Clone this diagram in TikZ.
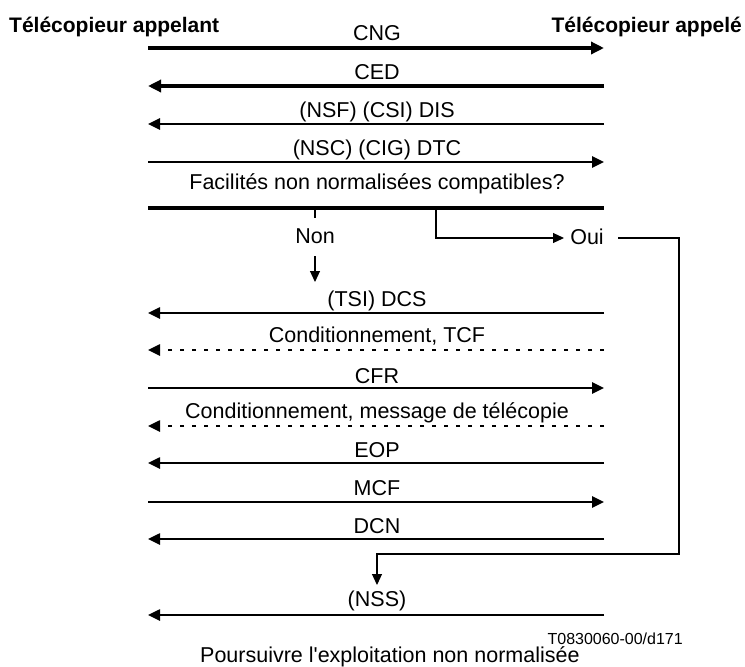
\documentclass[tikz,border=0pt]{standalone}
\usepackage{fontspec}
\setmainfont{Liberation Sans}
\usetikzlibrary{arrows.meta}
\tikzset{
  lbl/.style={anchor=base, inner sep=0pt, font=\fontsize{21.5}{24}\selectfont},
  hdr/.style={anchor=base, inner sep=0pt, font=\fontsize{21}{24}\selectfont\bfseries},
  thickmsg/.style={line width=4pt, -{Triangle[length=13pt,width=12pt]}},
  msg/.style={line width=2.5pt, -{Triangle[length=12pt,width=11pt]}},
  dmsg/.style={line width=2.5pt, dash pattern=on 4pt off 8pt, -{Triangle[length=12pt,width=11pt]}},
  conn/.style={line width=1.1pt},
  connarr/.style={line width=1.1pt, -{Triangle[length=11pt,width=10pt]}},
}
\begin{document}
\begin{tikzpicture}[x=1pt,y=-1pt]
\useasboundingbox (0,0) rectangle (745,667);
% headers
\node[hdr, anchor=base west] (hL) at (9,32) {Télécopieur appelant};
\node[hdr, anchor=base east] (hR) at (742,32) {Télécopieur appelé};
% endpoints
\foreach \n/\y in {cng/48,ced/86,dis/124,dtc/162,sep/208,dcs/313,tcf/350,cfr/388,msg/426,eop/463,mcf/502,dcn/539,nss/615}{
  \coordinate (\n L) at (148,\y);
  \coordinate (\n R) at (604,\y);
}
% first exchange
\draw[thickmsg] (cngL) -- (cngR);
\node[lbl] (cngT) at (377,40) {CNG};
\draw[thickmsg] (cedR) -- (cedL);
\node[lbl] (cedT) at (377,79) {CED};
\draw[msg] (disR) -- (disL);
\node[lbl] (disT) at (377,117) {(NSF) (CSI) DIS};
\draw[msg] (dtcL) -- (dtcR);
\node[lbl] (dtcT) at (377,155) {(NSC) (CIG) DTC};
\node[lbl] (q) at (377,189) {Facilités non normalisées compatibles?};
\draw[line width=4pt] (sepL) -- (sepR);
% branches
\node[lbl] (non) at (315,243) {Non};
\node[lbl] (oui) at (587,244) {Oui};
\coordinate (nonA) at (315,208);
\coordinate (nonB) at (315,218);
\coordinate (nonC) at (315,256);
\coordinate (nonD) at (315,282);
\draw[conn] (nonA) -- (nonB);
\draw[connarr] (nonC) -- (nonD);
\coordinate (ouiA) at (436,208);
\coordinate (ouiB) at (436,238);
\coordinate (ouiC) at (564,238);
\draw[connarr] (ouiA) -- (ouiB) -- (ouiC);
\coordinate (ouiD) at (618,238);
\coordinate (ouiE) at (679,238);
\coordinate (ouiF) at (679,554);
\coordinate (ouiG) at (377,554);
\coordinate (ouiH) at (377,585);
\draw[connarr] (ouiD) -- (ouiE) -- (ouiF) -- (ouiG) -- (ouiH);
% standard path
\draw[msg] (dcsR) -- (dcsL);
\node[lbl] (dcsT) at (377,306) {(TSI) DCS};
\draw[dmsg] (tcfR) -- (tcfL);
\node[lbl] (tcfT) at (377,342) {Conditionnement, TCF};
\draw[msg] (cfrL) -- (cfrR);
\node[lbl] (cfrT) at (377,383) {CFR};
\draw[dmsg] (msgR) -- (msgL);
\node[lbl] (msgT) at (377,418) {Conditionnement, message de télécopie};
\draw[msg] (eopR) -- (eopL);
\node[lbl] (eopT) at (377,457) {EOP};
\draw[msg] (mcfL) -- (mcfR);
\node[lbl] (mcfT) at (377,495) {MCF};
\draw[msg] (dcnR) -- (dcnL);
\node[lbl] (dcnT) at (377,533) {DCN};
\draw[msg] (nssR) -- (nssL);
\node[lbl] (nssT) at (377,606) {(NSS)};
\node[anchor=base east, inner sep=0pt, font=\fontsize{16}{19}\selectfont] (ref) at (683,644) {T0830060-00/d171};
\node[lbl, anchor=base west] (pour) at (200,662) {Poursuivre l\textquotesingle exploitation non normalisée};
\end{tikzpicture}
\end{document}
